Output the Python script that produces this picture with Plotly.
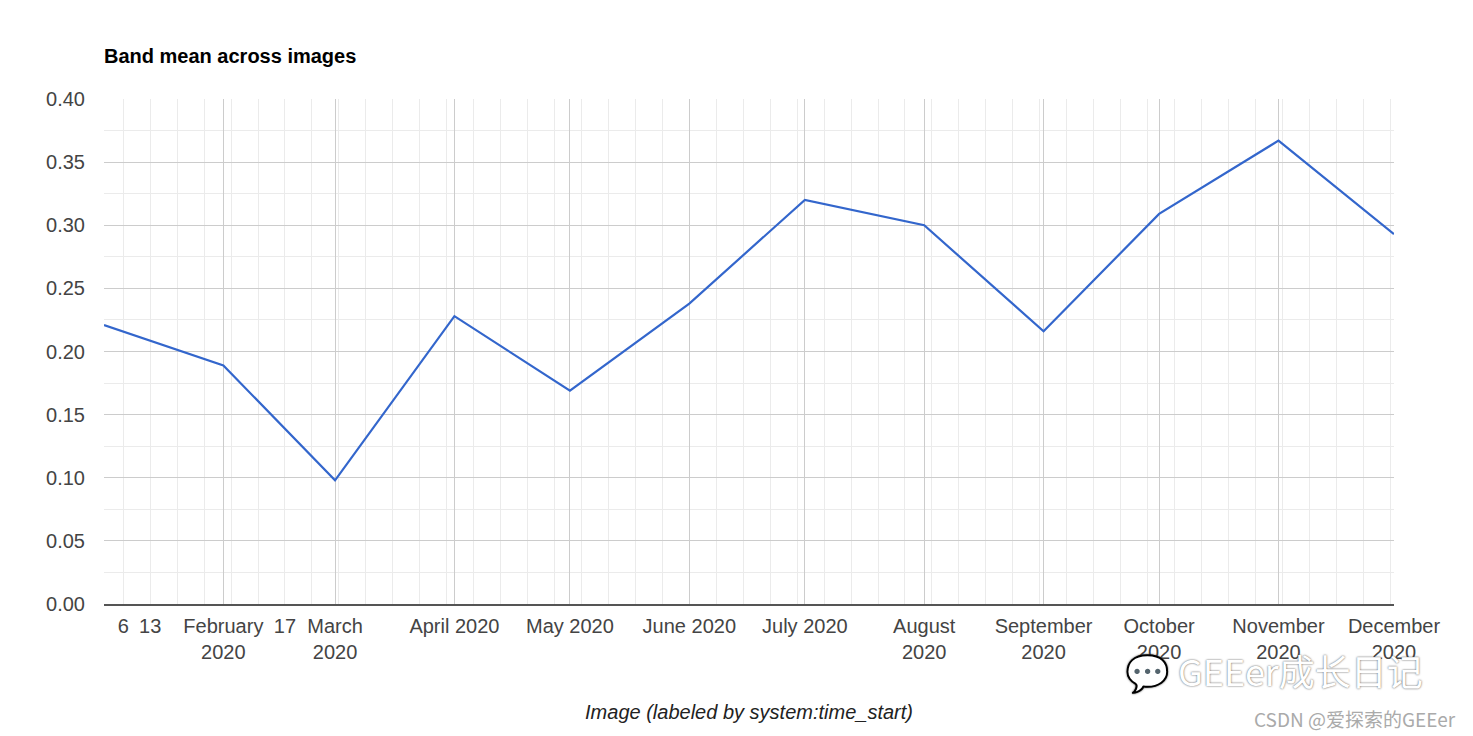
import plotly.graph_objects as go

# ---- data ----
dates = ["2020-01-01", "2020-02-01", "2020-03-01", "2020-04-01", "2020-05-01", "2020-06-01",
         "2020-07-01", "2020-08-01", "2020-09-01", "2020-10-01", "2020-11-01", "2020-12-01"]
band_mean = [0.221, 0.189, 0.098, 0.228, 0.169, 0.238, 0.320, 0.300, 0.216, 0.309, 0.367, 0.293]

tick_dates = ["2020-01-06", "2020-01-13", "2020-02-01", "2020-02-17", "2020-03-01", "2020-04-01",
              "2020-05-01", "2020-06-01", "2020-07-01", "2020-08-01", "2020-09-01", "2020-10-01",
              "2020-11-01", "2020-12-01"]
tick_labels = ["6", "13", "February<br>2020", "17", "March<br>2020", "April 2020", "May 2020",
               "June 2020", "July 2020", "August<br>2020", "September<br>2020", "October<br>2020",
               "November<br>2020", "December<br>2020"]
y_ticks = [0.0, 0.05, 0.10, 0.15, 0.20, 0.25, 0.30, 0.35, 0.40]

FONT = "Liberation Sans, Arial, sans-serif"
x_range = [dates[0], dates[-1]]

W, H = 1465, 728
L, R, T, B = 96, 79, 91, 132
PW, PH = W - L - R, H - T - B

fig = go.Figure()
fig.add_trace(go.Scatter(x=dates, y=band_mean, mode="lines",
                         line=dict(color="#3366cc", width=2.2), xaxis="x", yaxis="y",
                         cliponaxis=False, showlegend=False))
# invisible trace so the label axis renders
fig.add_trace(go.Scatter(x=dates, y=band_mean, mode="lines", line=dict(width=0),
                         opacity=0, xaxis="x2", yaxis="y", showlegend=False, hoverinfo="skip"))

fig.update_layout(
    width=W, height=H,
    paper_bgcolor="white", plot_bgcolor="white",
    margin=dict(l=L, r=R, t=T, b=B),
    font=dict(family=FONT, size=20, color="#444"),
    title=dict(text="<b>Band mean across images</b>", x=L / W, xanchor="left",
               y=1 - 48 / H, yanchor="middle",
               font=dict(family=FONT, size=20, color="#000")),
    xaxis=dict(
        type="date", range=x_range,
        tickmode="array", tickvals=dates[1:], showticklabels=False,
        showgrid=True, gridcolor="#cccccc", gridwidth=1,
        minor=dict(tickmode="linear", tick0="2020-01-06", dtick=7 * 86400000,
                   showgrid=True, gridcolor="#ebebeb", gridwidth=1),
        showline=True, linecolor="#555", linewidth=2,
        zeroline=False, ticks="",
    ),
    xaxis2=dict(
        type="date", range=x_range, overlaying="x", anchor="y", side="bottom",
        tickmode="array", tickvals=tick_dates, ticktext=tick_labels,
        showgrid=False, zeroline=False, ticks="", ticklabelstandoff=8,
        tickfont=dict(family=FONT, size=20, color="#444"),
        title=dict(text="<i>Image (labeled by system:time_start)</i>", standoff=42,
                   font=dict(family=FONT, size=20, color="#222")),
    ),
    yaxis=dict(
        range=[0, 0.4], tickmode="array", tickvals=y_ticks, tickformat=".2f",
        showgrid=True, gridcolor="#cccccc", gridwidth=1,
        minor=dict(tickmode="linear", tick0=0, dtick=0.025, showgrid=True,
                   gridcolor="#ebebeb", gridwidth=1),
        zeroline=False, ticks="", ticklabelstandoff=18,
        tickfont=dict(family=FONT, size=20, color="#444"),
    ),
)

# watermark texts
fig.add_annotation(text="\U0001F4AC GEEer成长日记", xref="paper", yref="paper",
                   x=(1425 - 104) / PW, xanchor="right",
                   y=-(670 - 604) / PH, yanchor="middle", showarrow=False,
                   font=dict(family="Noto Sans CJK SC, sans-serif", size=36, color="white",
                             shadow="0px 0px 2px #444"))
fig.add_annotation(text="CSDN @爱探索的GEEer", xref="paper", yref="paper",
                   x=(1458 - 104) / PW, xanchor="right",
                   y=-(718 - 604) / PH, yanchor="middle", showarrow=False,
                   font=dict(family="Noto Sans CJK SC, sans-serif", size=19, color="#aaaaaa"))

fig.write_html("out.html")
